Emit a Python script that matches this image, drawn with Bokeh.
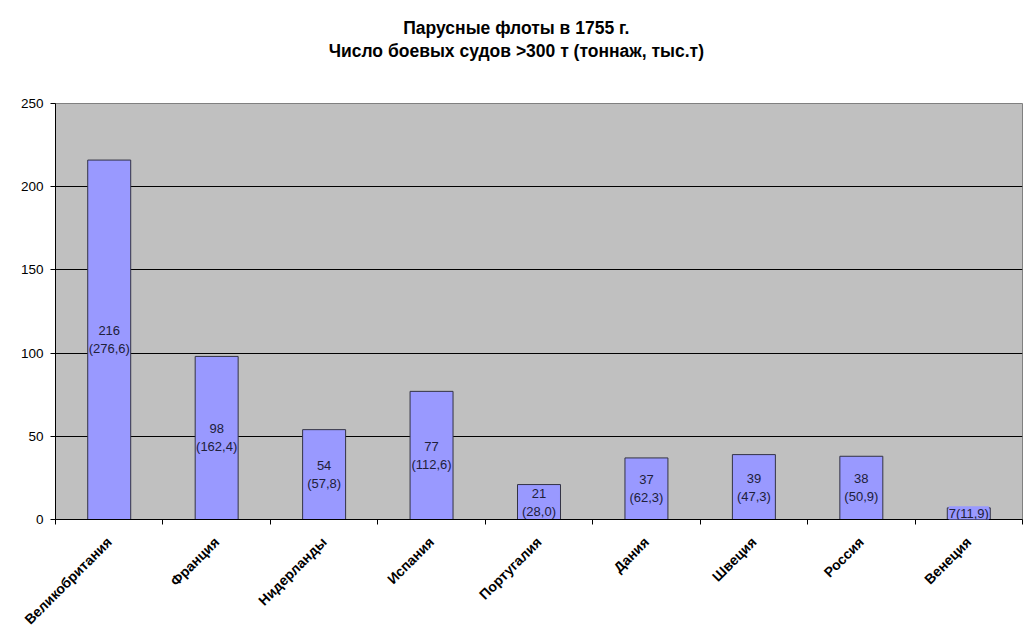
import math
from bokeh.plotting import figure
from bokeh.layouts import column
from bokeh.models import Range1d, FixedTicker, ColumnDataSource, LabelSet
from bokeh.core.properties import value
from bokeh.embed import file_html
from bokeh.resources import INLINE

countries = ["Великобритания", "Франция", "Нидерланды", "Испания", "Португалия",
             "Дания", "Швеция", "Россия", "Венеция"]
ships = [216, 98, 54, 77, 21, 37, 39, 38, 7]
tonnage = ["276,6", "162,4", "57,8", "112,6", "28,0", "62,3", "47,3", "50,9", "11,9"]
y_ticks = [0, 50, 100, 150, 200, 250]
title_lines = ["Парусные флоты в 1755 г.", "Число боевых судов >300 т (тоннаж, тыс.т)"]

xs = [i + 0.5 for i in range(len(countries))]
two = [i for i, s in enumerate(ships) if s > 10]
one = [i for i, s in enumerate(ships) if s <= 10]

src = ColumnDataSource(dict(x=xs, top=ships))
src2 = ColumnDataSource(dict(x=[xs[i] for i in two], mid=[ships[i] / 2 for i in two],
                             l1=[str(ships[i]) for i in two],
                             l2=[f"({tonnage[i]})" for i in two]))
src1 = ColumnDataSource(dict(x=[xs[i] for i in one], mid=[ships[i] / 2 for i in one],
                             l=[f"{ships[i]}({tonnage[i]})" for i in one]))

FONT = "Liberation Sans"
W, H = 1024, 638
TH = 75  # height of the title strip

# ---- title strip ----
t = figure(width=W, height=TH, output_backend="svg", toolbar_location=None,
           x_range=Range1d(0, W), y_range=Range1d(0, TH), x_axis_type=None, y_axis_type=None,
           min_border=0, min_border_left=0, min_border_right=0, min_border_top=0, min_border_bottom=0)
t.outline_line_color = None
t.grid.visible = False
t.background_fill_color = "white"
t.border_fill_color = "white"
tsrc = ColumnDataSource(dict(x=[W / 2 - 24] * 2, y=[TH - 27, TH - 50], text=title_lines))
t.text(x="x", y="y", text="text", source=tsrc, text_align="center", text_baseline="middle",
       text_font=value(FONT), text_font_size="17.5px", text_font_style="bold", text_color="black")

# ---- main chart ----
p = figure(width=W, height=H - TH, output_backend="svg", toolbar_location=None,
           x_range=Range1d(0, len(countries)), y_range=Range1d(0, 250),
           min_border_left=55, min_border_right=2, min_border_top=103 - TH, min_border_bottom=119)
p.background_fill_color = "#C0C0C0"
p.border_fill_color = "white"
p.outline_line_color = "#808080"
p.outline_line_width = 1

p.vbar(x="x", top="top", width=0.4, source=src, fill_color="#9999FF", line_color="#333344", line_width=1)

common = dict(text_align="center", text_baseline="middle", text_font=value(FONT),
              text_font_size="13px", text_color="#20203A")
p.add_layout(LabelSet(x="x", y="mid", text="l1", source=src2, y_offset=9, **common))
p.add_layout(LabelSet(x="x", y="mid", text="l2", source=src2, y_offset=-9, **common))
p.add_layout(LabelSet(x="x", y="mid", text="l", source=src1, background_fill_color="#9999FF", **common))

p.xgrid.visible = False
p.ygrid.grid_line_color = "black"
p.ygrid.grid_line_width = 1
p.ygrid.ticker = FixedTicker(ticks=y_ticks)

p.yaxis.ticker = FixedTicker(ticks=y_ticks)
p.yaxis.axis_line_color = "black"
p.yaxis.major_tick_in = 0
p.yaxis.major_tick_out = 5
p.yaxis.major_tick_line_color = "black"
p.yaxis.minor_tick_line_color = None
p.yaxis.major_label_text_font = FONT
p.yaxis.major_label_text_font_size = "13.5px"
p.yaxis.major_label_text_color = "black"
p.yaxis.major_label_standoff = 7

p.xaxis.ticker = FixedTicker(ticks=xs, minor_ticks=list(range(len(countries) + 1)))
p.xaxis.major_label_overrides = {x: c for x, c in zip(xs, countries)}
p.xaxis.major_tick_line_color = None
p.xaxis.minor_tick_line_color = "black"
p.xaxis.minor_tick_in = 0
p.xaxis.minor_tick_out = 5
p.xaxis.axis_line_color = "black"
p.xaxis.major_label_orientation = math.pi / 4
p.xaxis.major_label_text_font = FONT
p.xaxis.major_label_text_font_size = "14px"
p.xaxis.major_label_text_font_style = "bold"
p.xaxis.major_label_text_color = "black"
p.xaxis.major_label_standoff = 14

layout = column(t, p, spacing=0)
open("out.html", "w").write(file_html(layout, INLINE))
